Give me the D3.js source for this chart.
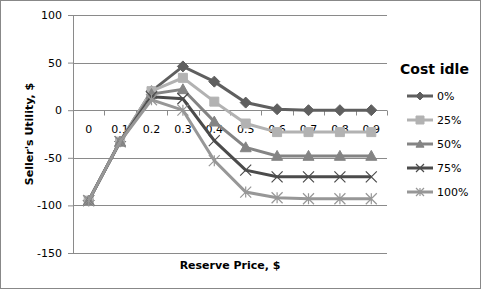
<!DOCTYPE html>
<html>
<head>
<meta charset="utf-8">
<script src="https://cdn.jsdelivr.net/npm/d3@7"></script>
<style>
  body { margin: 0; background: #fff; }
  text { font-family: "DejaVu Sans", Verdana, sans-serif; }
</style>
</head>
<body>
<svg id="chart"></svg>
<script>
var categories = ['0', '0.1', '0.2', '0.3', '0.4', '0.5', '0.6', '0.7', '0.8', '0.9'];
var seriesNames = ['0%', '25%', '50%', '75%', '100%'];
var v0 = [-95, -33, 20, 46, 30, 8, 1, 0, 0, 0];
var v25 = [-95, -33, 20, 34, 9, -14, -23, -23, -23, -23];
var v50 = [-95, -33, 17, 22, -12, -39, -48, -48, -48, -48];
var v75 = [-95, -33, 14, 12, -32, -63, -70, -70, -70, -70];
var v100 = [-95, -33, 11, 0, -53, -86, -92, -93, -93, -93];
var yTicks = [100, 50, 0, -50, -100, -150];

var series = [
  { name: seriesNames[0], values: v0, color: '#5f5f5f', marker: 'diamond' },
  { name: seriesNames[1], values: v25, color: '#b2b2b2', marker: 'square' },
  { name: seriesNames[2], values: v50, color: '#848484', marker: 'triangle' },
  { name: seriesNames[3], values: v75, color: '#4b4b4b', marker: 'x' },
  { name: seriesNames[4], values: v100, color: '#979797', marker: 'star' }
];

var W = 481, H = 289;
var margin = { top: 15, left: 73, right: 94, bottom: 36 };
var width = W - margin.left - margin.right;
var height = H - margin.top - margin.bottom;

var svg = d3.select('#chart').attr('width', W).attr('height', H);

svg.append('rect')
  .attr('x', 0.5).attr('y', 0.5)
  .attr('width', W - 1).attr('height', H - 1)
  .attr('fill', '#fff').attr('stroke', '#888');

var chart = svg.append('g')
  .attr('transform', `translate(${margin.left}, ${margin.top})`);

var x = d3.scaleBand().domain(categories).range([0, width]);
var y = d3.scaleLinear().domain([-150, 100]).range([height, 0]);

// gridlines
chart.selectAll('.grid')
  .data(yTicks)
  .enter().append('line')
  .attr('x1', 0).attr('x2', width)
  .attr('y1', d => Math.round(y(d)) + 0.5).attr('y2', d => Math.round(y(d)) + 0.5)
  .attr('stroke', '#8a8a8a').attr('stroke-width', 1);

// y axis
var yAxis = d3.axisLeft(y).tickValues(yTicks).tickSize(5).tickPadding(6)
  .tickFormat(d => String(d));
var gy = chart.append('g').call(yAxis);
gy.select('.domain').attr('stroke', '#8a8a8a');
gy.selectAll('.tick line').attr('stroke', '#8a8a8a');
gy.selectAll('.tick text').attr('font-size', '11px').attr('fill', '#000');

// x axis at zero
var x0 = Math.round(y(0)) + 0.5;
var gx = chart.append('g').attr('transform', `translate(0, ${x0})`);
gx.append('line').attr('x1', 0).attr('x2', width).attr('stroke', '#8a8a8a');
gx.selectAll('.xt')
  .data(categories.concat(['end']))
  .enter().append('line')
  .attr('x1', (d, i) => Math.round(i * x.step()) + 0.5)
  .attr('x2', (d, i) => Math.round(i * x.step()) + 0.5)
  .attr('y1', 0).attr('y2', 5)
  .attr('stroke', '#8a8a8a');
gx.selectAll('.xl')
  .data(categories)
  .enter().append('text')
  .attr('x', d => x(d) + x.bandwidth() / 2)
  .attr('y', 22)
  .attr('text-anchor', 'middle')
  .attr('font-size', '11px')
  .text(d => d);

// lines
var line = d3.line()
  .x((d, i) => x(categories[i]) + x.bandwidth() / 2)
  .y(d => y(d));

var markerPath = function (type, s) {
  if (type === 'diamond') return `M0,${-s}L${s},0L0,${s}L${-s},0Z`;
  if (type === 'square') return `M${-s},${-s}H${s}V${s}H${-s}Z`;
  if (type === 'triangle') return `M0,${-s}L${s},${s * 0.8}L${-s},${s * 0.8}Z`;
  if (type === 'x') return `M${-s},${-s}L${s},${s}M${s},${-s}L${-s},${s}`;
  return `M${-s},${-s}L${s},${s}M${s},${-s}L${-s},${s}M0,${-s}V${s}`;
};

var drawMarker = function (g, d, color, cx, cy, s) {
  var filled = d.marker === 'diamond' || d.marker === 'square' || d.marker === 'triangle';
  g.append('path')
    .attr('transform', `translate(${cx}, ${cy})`)
    .attr('d', markerPath(d.marker, s))
    .attr('fill', filled ? color : 'none')
    .attr('stroke', color)
    .attr('stroke-width', filled ? 1 : 1.2);
};

series.forEach(s => {
  chart.append('path')
    .datum(s.values)
    .attr('d', line)
    .attr('fill', 'none')
    .attr('stroke', s.color)
    .attr('stroke-width', 3);
  var sz = s.marker === 'square' ? 4.5 : 5.5;
  s.values.forEach((v, i) => {
    drawMarker(chart, s, s.color, x(categories[i]) + x.bandwidth() / 2, y(v), sz);
  });
});

// axis titles
svg.append('text')
  .attr('transform', `translate(33, ${margin.top + height / 2}) rotate(-90)`)
  .attr('text-anchor', 'middle')
  .attr('font-size', '11px')
  .attr('font-weight', 'bold')
  .text("Seller's Utility, $");

svg.append('text')
  .attr('x', margin.left + width / 2)
  .attr('y', 269)
  .attr('text-anchor', 'middle')
  .attr('font-size', '11px')
  .attr('font-weight', 'bold')
  .text('Reserve Price, $');

// legend
var legend = svg.append('g').attr('transform', 'translate(400, 0)');
legend.append('text')
  .attr('x', 0).attr('y', 74)
  .attr('font-size', '14px')
  .attr('font-weight', 'bold')
  .text('Cost idle');

var items = legend.selectAll('.item')
  .data(series)
  .enter().append('g')
  .attr('transform', (d, i) => `translate(0, ${96 + i * 24})`);

items.append('line')
  .attr('x1', 7).attr('x2', 33)
  .attr('stroke', d => d.color)
  .attr('stroke-width', 3);
items.each(function (d) {
  drawMarker(d3.select(this), d, d.color, 20, 0, 4);
});
items.append('text')
  .attr('x', 37).attr('y', 4)
  .attr('font-size', '11px')
  .text(d => d.name);
</script>
</body>
</html>
